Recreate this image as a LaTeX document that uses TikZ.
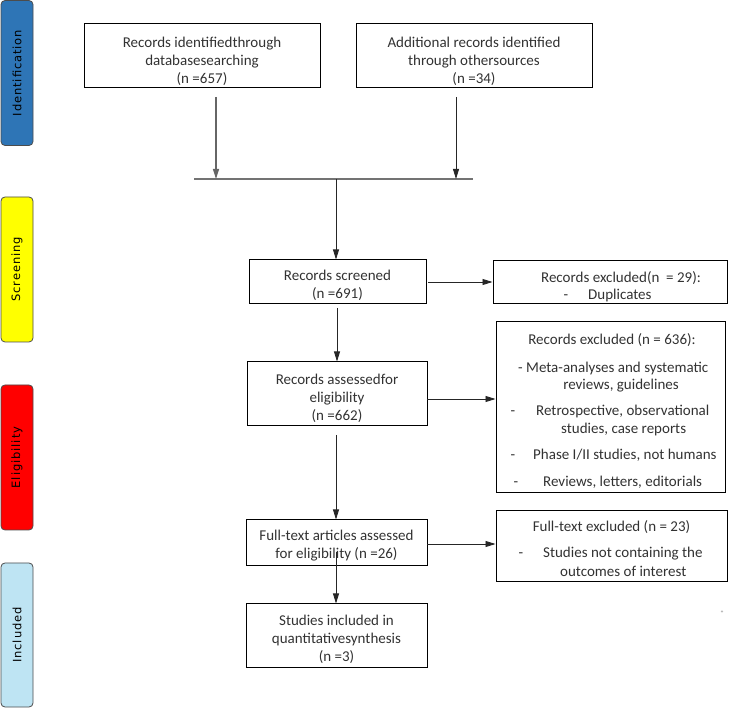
\documentclass[tikz,border=0pt]{standalone}
\usepackage{fontspec}
\setmainfont{Carlito}
\newfontfamily\sidefont[LetterSpace=8]{DejaVu Sans}
\usetikzlibrary{arrows.meta}
\definecolor{idblue}{RGB}{46,117,182}
\definecolor{scryellow}{RGB}{255,255,0}
\definecolor{elired}{RGB}{255,0,0}
\definecolor{inclblue}{RGB}{190,228,243}
\definecolor{txtgray}{RGB}{50,50,50}
\begin{document}
\begin{tikzpicture}[x=1pt,y=-1pt,
  box/.style={draw=black, line width=1pt, inner sep=0pt},
  txt/.style={font=\fontsize{15}{18}\selectfont, text=txtgray, align=center, inner sep=0pt},
  ltxt/.style={font=\fontsize{15}{18}\selectfont, text=txtgray, inner sep=0pt, anchor=base west},
  ctxt/.style={font=\fontsize{15}{18}\selectfont, text=txtgray, inner sep=0pt, anchor=base},
  side/.style={draw=black!70, line width=0.8pt, rounded corners=4pt, rotate=90,
    minimum height=32pt, minimum width=145pt, inner sep=0pt,
    font=\sidefont\fontsize{11.5}{13}\selectfont, text=black},
  arr/.style={-{Triangle[length=10pt,width=6pt]}, draw=black!85, line width=0.8pt},
  garr/.style={-{Triangle[length=10pt,width=6pt]}, draw=black!60, line width=1.4pt}
]
\useasboundingbox (0,0) rectangle (729,708);

% phase bars
\node[side, fill=idblue] (sid) at (17,73) {Identification};
\node[side, fill=scryellow] (sscr) at (17,269.5) {Screening};
\node[side, fill=elired] (selig) at (17,457.5) {Eligibility};
\node[side, fill=inclblue, minimum width=144pt] (sincl) at (17,635) {Included};

% identification boxes
\node[box, minimum width=236pt, minimum height=64pt] (b1) at (202,56) {};
\node[txt] (t1) at (202,61) {Records identifiedthrough\\databasesearching\\(n =657)};
\node[box, minimum width=236pt, minimum height=64pt] (b2) at (474,56) {};
\node[txt] (t2) at (474,61) {Additional records identified\\through othersources\\(n =34)};

% merge
\coordinate (a1s) at (216,97);
\coordinate (a1e) at (216,179);
\coordinate (a2s) at (456,97);
\coordinate (a2e) at (456,179);
\coordinate (ml) at (194,179);
\coordinate (mr) at (473,179);
\coordinate (mm) at (336,179);
\draw[draw=black!55, line width=1.6pt] (ml) -- (mr);
\draw[garr] (a1s) -- (a1e);
\draw[arr] (a2s) -- (a2e);

% screening
\node[box, minimum width=177pt, minimum height=44pt] (scr) at (337.5,282) {};
\node[txt] (tscr) at (337.5,285.5) {Records screened\\(n =691)};
\node[box, minimum width=234pt, minimum height=43pt] (ex1) at (610,282.5) {};
\node[ctxt] (ex1h) at (621,282.5) {Records excluded(n \ = 29):};
\node[ctxt] (ex1d) at (566,299.5) {-};
\node[ltxt] (ex1a) at (588,299.5) {Duplicates};

\draw[arr] (mm) -- (mm |- scr.north);
\coordinate (s1) at (428,282);
\draw[arr] (s1) -- (s1 -| ex1.west);

% eligibility
\node[box, minimum width=180pt, minimum height=64pt] (as) at (337,394) {};
\node[txt] (tas) at (337,398) {Records assessedfor\\eligibility\\(n =662)};
\coordinate (d1) at (337,308);
\draw[arr] (d1) -- (d1 |- as.north);

\node[box, minimum width=229pt, minimum height=171pt] (ex2) at (610.5,407.5) {};
\node[ctxt] (ex2h) at (612,344.5) {Records excluded (n = 636):};
\node[ltxt] (ex2a) at (518,372.5) {- Meta-analyses and systematic};
\node[ctxt] (ex2b) at (621,389.5) {reviews, guidelines};
\node[ctxt] (ex2cd) at (513,415.5) {-};
\node[ltxt] (ex2c) at (536,415.5) {Retrospective, observational};
\node[ltxt] (ex2c2) at (561,433.5) {studies, case reports};
\node[ctxt] (ex2dd) at (513,459.5) {-};
\node[ltxt] (ex2d) at (533,459.5) {Phase I/II studies, not humans};
\node[ctxt] (ex2ed) at (516,486.5) {-};
\node[ltxt] (ex2e) at (543,486.5) {Reviews, letters, editorials};
\coordinate (s2) at (427,399);
\draw[arr] (s2) -- (s2 -| ex2.west);

\node[box, minimum width=181pt, minimum height=46pt] (ft) at (336.5,543) {};
\node[txt] (tft) at (336.5,546) {Full-text articles assessed\\for eligibility (n =26)};
\coordinate (d2) at (336,435);
\draw[arr] (d2) -- (d2 |- ft.north);

\node[box, minimum width=231pt, minimum height=71pt] (ex3) at (611.5,546.5) {};
\node[ctxt] (ex3h) at (611.5,531.5) {Full-text excluded (n = 23)};
\node[ctxt] (ex3d) at (521,557.5) {-};
\node[ltxt] (ex3a) at (543,557.5) {Studies not containing the};
\node[ltxt] (ex3b) at (560,576.5) {outcomes of interest};
\coordinate (s3) at (427,544);
\draw[arr] (s3) -- (s3 -| ex3.west);

% included
\node[box, minimum width=181pt, minimum height=63pt] (inc) at (336.5,635.5) {};
\node[txt] (tinc) at (336.5,639) {Studies included in\\quantitativesynthesis\\(n =3)};
\coordinate (d3) at (336,552);
\draw[arr] (d3) -- (d3 |- inc.north);

\node[font=\fontsize{5}{6}\selectfont, text=black!60, inner sep=0pt] (plus) at (722,612) {+};
\end{tikzpicture}
\end{document}
